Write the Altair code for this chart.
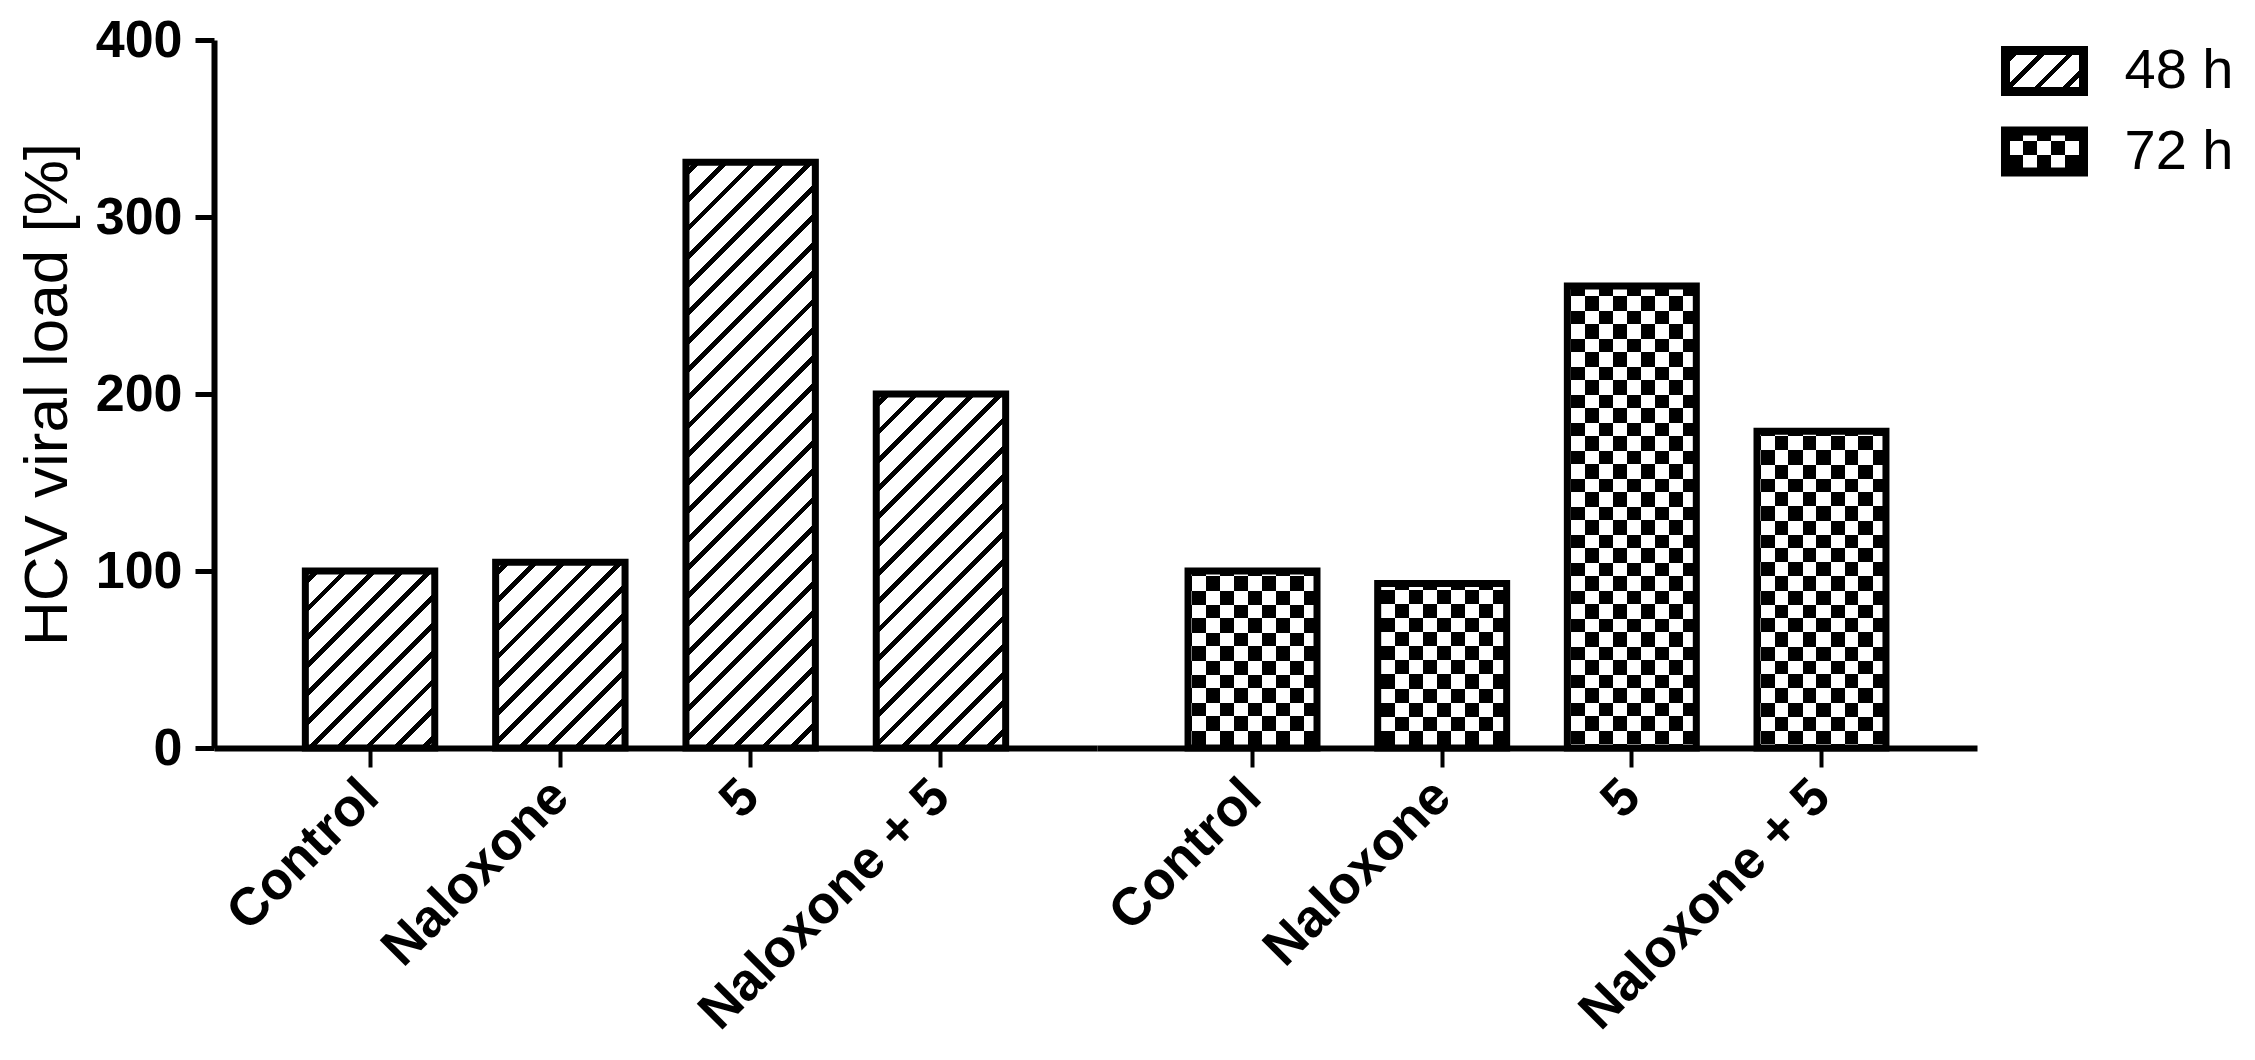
import math
import altair as alt
import pandas as pd

# ---------------- data ----------------
treatments = ["Control", "Naloxone", "5", "Naloxone + 5"]
load_48h = [100, 105, 331, 200]
load_72h = [100, 93, 261, 179]
legend_labels = ["48 h", "72 h"]
y_ticks = [0, 100, 200, 300, 400]
y_title = "HCV viral load [%]"

# ---------------- layout / style ----------------
FONT = "Liberation Sans"
PLOT_H = 708
W1, W2 = 883, 880
PI, PO = 0.32, 0.48
BAR_STROKE = 7
HATCH_PERIOD, HATCH_LINE = 20.0, 4.8
CELL = 14.0
LEG_W, LEG_H = 110, 161
LEG_PI, LEG_PO, LEG_ALIGN = 0.49, 0.245, 0.267
LEG_X0, LEG_X1 = 28.5, 106.5


def stripe_stops(span, period, dark, phase=0.0):
    stops = [{"offset": 0, "color": "#ffffff"}]
    pos = phase - period
    while pos < span:
        a, b = max(pos, 0.0), min(pos + dark, span)
        if b > a:
            oa, ob = round(a / span, 5), round(b / span, 5)
            stops += [
                {"offset": oa, "color": "#ffffff"},
                {"offset": oa, "color": "#000000"},
                {"offset": ob, "color": "#000000"},
                {"offset": ob, "color": "#ffffff"},
            ]
        pos += period
    stops.append({"offset": 1, "color": "#ffffff"})
    return stops


def hatch(w, h, period=HATCH_PERIOD, line=HATCH_LINE):
    k = (w + h) / (w * w + h * h)
    span = (w + h) / math.sqrt(2)
    return {"gradient": "linear", "x1": 0, "y1": 0, "x2": k * w, "y2": k * h,
            "stops": stripe_stops(span, period, line, phase=6.0)}


def vstripes(w):
    return {"gradient": "linear", "x1": 0, "y1": 0, "x2": 1, "y2": 0,
            "stops": stripe_stops(w, 2 * CELL, CELL, phase=3.5)}


def hstripes(h):
    return {"gradient": "linear", "x1": 0, "y1": 1, "x2": 0, "y2": 0,
            "stops": stripe_stops(h, 2 * CELL, CELL, phase=3.5)}


x_axis = alt.Axis(title=None, labelAngle=315, labelAlign="right", labelBaseline="middle",
                  labelFontSize=53, labelFontWeight="bold", labelLimit=1000,
                  labelFont=FONT, labelColor="black", domainColor="black", domainWidth=6,
                  tickColor="black", tickWidth=4, tickSize=19, labelPadding=21, grid=False)
y_axis = alt.Axis(title=y_title, values=y_ticks, titleFontSize=62, titleFontWeight="normal",
                  titleFont=FONT, titleColor="black", titlePadding=16,
                  labelFontSize=52, labelFontWeight="bold", labelFont=FONT, labelColor="black",
                  domainColor="black", domainWidth=6, tickColor="black", tickWidth=5,
                  tickSize=19, labelPadding=13, grid=False)


def panel(values, W, kind, show_y):
    df = pd.DataFrame({"treatment": treatments, "load": values})
    x = alt.X("treatment:N", sort=treatments,
              scale=alt.Scale(domain=treatments, paddingInner=PI, paddingOuter=PO, align=0.5),
              axis=x_axis)
    y = alt.Y("load:Q", scale=alt.Scale(domain=[0, 400], nice=False),
              axis=y_axis if show_y else None)
    base = alt.Chart(df).encode(x=x, y=y)
    step = W / (4 - PI + 2 * PO)
    bw = step * (1 - PI)
    layers = []
    if kind == "hatch":
        for t, v in zip(treatments, values):
            layers.append(base.transform_filter(alt.datum.treatment == t)
                          .mark_bar(fill=hatch(bw, v * PLOT_H / 400)))
    else:
        layers.append(base.mark_bar(fill=vstripes(bw)))
        for t, v in zip(treatments, values):
            layers.append(base.transform_filter(alt.datum.treatment == t)
                          .mark_bar(fill=hstripes(v * PLOT_H / 400), blend="difference"))
    layers.append(base.mark_bar(fill="white", fillOpacity=0, stroke="black",
                                strokeWidth=BAR_STROKE))
    return alt.layer(*layers).properties(width=W, height=PLOT_H)


p48 = panel(load_48h, W1, "hatch", True)
p72 = panel(load_72h, W2, "checker", False)

# legend panel
ldf = pd.DataFrame({"label": legend_labels})
ly = alt.Y("label:N", sort=legend_labels,
           scale=alt.Scale(domain=legend_labels, paddingInner=LEG_PI, paddingOuter=LEG_PO,
                           align=LEG_ALIGN),
           axis=alt.Axis(orient="right", title=None, domain=False, ticks=False,
                         labelFontSize=56, labelFont=FONT, labelFontWeight="normal",
                         labelColor="black", labelPadding=37, grid=False))
lbase = alt.Chart(ldf).encode(y=ly, x=alt.value(LEG_X0), x2=alt.value(LEG_X1))
lw = LEG_X1 - LEG_X0
lh = (LEG_H / (2 - LEG_PI + 2 * LEG_PO)) * (1 - LEG_PI)
legend = alt.layer(
    lbase.transform_filter(alt.datum.label == legend_labels[0]).mark_rect(fill=hatch(lw, lh)),
    lbase.transform_filter(alt.datum.label == legend_labels[1]).mark_rect(fill=vstripes(lw)),
    lbase.transform_filter(alt.datum.label == legend_labels[1]).mark_rect(fill=hstripes(lh),
                                                                          blend="difference"),
    lbase.mark_rect(fill="white", fillOpacity=0, stroke="black", strokeWidth=9),
).properties(width=LEG_W, height=LEG_H)

chart = alt.hconcat(p48, p72, legend, spacing=0, bounds="flush").properties(
    padding={"left": 8, "top": 6, "right": 0, "bottom": 0}
).configure(font=FONT).configure_view(strokeWidth=0, stroke="transparent")

chart.save("out.html", embed_options={"renderer": "svg", "actions": False})
